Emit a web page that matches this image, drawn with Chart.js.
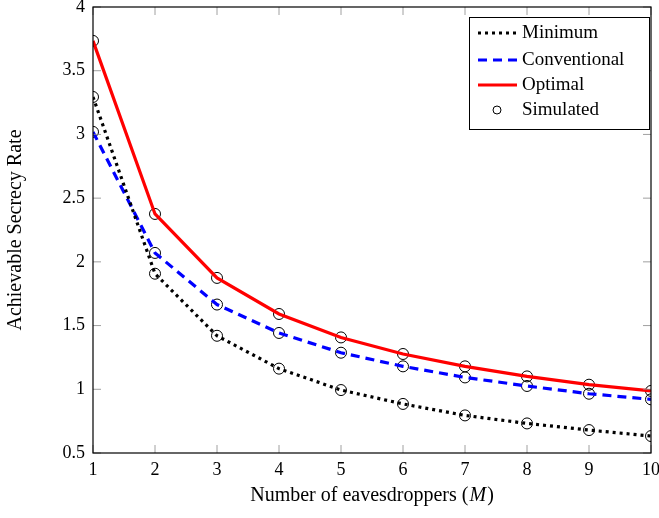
<!DOCTYPE html>
<html>
<head>
<meta charset="utf-8">
<script src="https://cdn.jsdelivr.net/npm/chart.js@4.4.1/dist/chart.umd.min.js"></script>
<style>
html,body{margin:0;padding:0;background:#fff;}
#wrap{width:659px;height:518px;}
</style>
</head>
<body>
<div id="wrap"><canvas id="c" width="659" height="518"></canvas></div>
<script>
const categories = [1, 2, 3, 4, 5, 6, 7, 8, 9, 10];
const minimumRate = [3.294, 1.907, 1.420, 1.162, 0.994, 0.885, 0.795, 0.732, 0.680, 0.633];
const conventionalRate = [3.020, 2.070, 1.665, 1.442, 1.287, 1.180, 1.093, 1.026, 0.965, 0.921];
const optimalRate = [3.734, 2.376, 1.874, 1.591, 1.407, 1.277, 1.180, 1.101, 1.036, 0.987];
const yTickLabels = ['0.5', '1', '1.5', '2', '2.5', '3', '3.5', '4'];
const xTickLabels = ['1', '2', '3', '4', '5', '6', '7', '8', '9', '10'];
const seriesNames = ['Minimum', 'Conventional', 'Optimal', 'Simulated'];

const SERIF = '"Liberation Serif", "Times New Roman", serif';

const toPts = arr => categories.map((x, i) => ({x: x, y: arr[i]}));
const simulatedPts = [].concat(toPts(minimumRate), toPts(conventionalRate), toPts(optimalRate));

const frame = {
  id: 'frame',
  afterDatasetsDraw(chart) {
    const ctx = chart.ctx, a = chart.chartArea;
    const xs = chart.scales.x, ys = chart.scales.y;
    ctx.save();
    ctx.strokeStyle = '#888';
    ctx.lineWidth = 0.8;
    const L = 8;
    ctx.beginPath();
    xs.ticks.forEach(t => {
      const px = xs.getPixelForValue(t.value);
      ctx.moveTo(px, a.bottom); ctx.lineTo(px, a.bottom - L);
      ctx.moveTo(px, a.top); ctx.lineTo(px, a.top + L);
    });
    ys.ticks.forEach(t => {
      const py = ys.getPixelForValue(t.value);
      ctx.moveTo(a.left, py); ctx.lineTo(a.left + L, py);
      ctx.moveTo(a.right, py); ctx.lineTo(a.right - L, py);
    });
    ctx.stroke();
    ctx.strokeStyle = '#000';
    ctx.lineWidth = 1.2;
    ctx.strokeRect(a.left, a.top, a.right - a.left, a.bottom - a.top);
    ctx.restore();
  },
  afterDraw(chart) {
    const ctx = chart.ctx, a = chart.chartArea;
    ctx.save();
    ctx.fillStyle = '#000';
    ctx.textBaseline = 'middle';
    const fN = '20px ' + SERIF, fI = 'italic 20px ' + SERIF;
    const p1 = 'Number of eavesdroppers (', p2 = 'M', p3 = ')';
    ctx.font = fN; const w1 = ctx.measureText(p1).width, w3 = ctx.measureText(p3).width;
    ctx.font = fI; const w2 = ctx.measureText(p2).width + 2;
    const tot = w1 + w2 + w3;
    let x0 = (a.left + a.right) / 2 - tot / 2;
    const ty = 496;
    ctx.textAlign = 'left';
    ctx.font = fN; ctx.fillText(p1, x0, ty);
    ctx.font = fI; ctx.fillText(p2, x0 + w1 + 1, ty);
    ctx.font = fN; ctx.fillText(p3, x0 + w1 + w2, ty);
    ctx.save();
    ctx.translate(16, (a.top + a.bottom) / 2);
    ctx.rotate(-Math.PI / 2);
    ctx.textAlign = 'center';
    ctx.font = fN;
    ctx.fillText('Achievable Secrecy Rate', 0, 0);
    ctx.restore();
    const bx = 469, by = 17, bw = 180, bh = 112;
    ctx.fillStyle = '#fff';
    ctx.fillRect(bx, by, bw, bh);
    ctx.strokeStyle = '#000';
    ctx.lineWidth = 1;
    ctx.strokeRect(bx + 0.5, by + 0.5, bw, bh);
    const rows = [33, 60, 85, 110];
    chart.data.datasets.forEach((ds, i) => {
      const yy = rows[i];
      if (ds.showLine === false) {
        ctx.beginPath();
        ctx.strokeStyle = '#000';
        ctx.lineWidth = 1;
        ctx.arc(497, yy, 4, 0, Math.PI * 2);
        ctx.stroke();
      } else {
        ctx.beginPath();
        ctx.strokeStyle = ds.borderColor;
        ctx.lineWidth = ds.borderWidth;
        ctx.setLineDash(ds.borderDash || []);
        ctx.moveTo(478, yy); ctx.lineTo(517, yy);
        ctx.stroke();
        ctx.setLineDash([]);
      }
      ctx.fillStyle = '#000';
      ctx.font = '19px ' + SERIF;
      ctx.textAlign = 'left';
      ctx.textBaseline = 'middle';
      ctx.fillText(ds.label, 522, yy);
    });
    ctx.restore();
  }
};

new Chart(document.getElementById('c'), {
  type: 'line',
  data: {
    datasets: [
      {label: seriesNames[0], data: toPts(minimumRate), borderColor: '#000', borderWidth: 3.2,
       borderDash: [3, 4], pointRadius: 0, fill: false, tension: 0},
      {label: seriesNames[1], data: toPts(conventionalRate), borderColor: '#0000ff', borderWidth: 3.2,
       borderDash: [9, 6], pointRadius: 0, fill: false, tension: 0},
      {label: seriesNames[2], data: toPts(optimalRate), borderColor: '#ff0000', borderWidth: 3.2,
       pointRadius: 0, fill: false, tension: 0},
      {label: seriesNames[3], data: simulatedPts, showLine: false, pointRadius: 5.5,
       pointStyle: 'circle', pointBorderColor: '#000', pointBackgroundColor: 'rgba(0,0,0,0)',
       pointBorderWidth: 1, borderColor: '#000'}
    ]
  },
  options: {
    responsive: false,
    animation: false,
    devicePixelRatio: 1,
    layout: {padding: {top: 7, right: 8, left: 0, bottom: 0}},
    plugins: {legend: {display: false}, tooltip: {enabled: false}},
    scales: {
      x: {
        type: 'linear', min: 1, max: 10,
        grid: {display: false, drawTicks: false},
        border: {display: false},
        ticks: {stepSize: 1, padding: 6, color: '#000', font: {family: SERIF, size: 18},
          callback: (v) => xTickLabels[categories.indexOf(v)] ?? ''},
        afterFit: s => { s.height = 65; s.paddingLeft = 0; s.paddingRight = 0; }
      },
      y: {
        type: 'linear', min: 0.5, max: 4,
        grid: {display: false, drawTicks: false},
        border: {display: false},
        ticks: {stepSize: 0.5, padding: 8, color: '#000', font: {family: SERIF, size: 18},
          callback: (v) => { const i = Math.round((v - 0.5) / 0.5); return yTickLabels[i] ?? ''; }},
        afterFit: s => { s.width = 93; s.paddingTop = 0; s.paddingBottom = 0; }
      }
    }
  },
  plugins: [frame]
});
</script>
</body>
</html>
